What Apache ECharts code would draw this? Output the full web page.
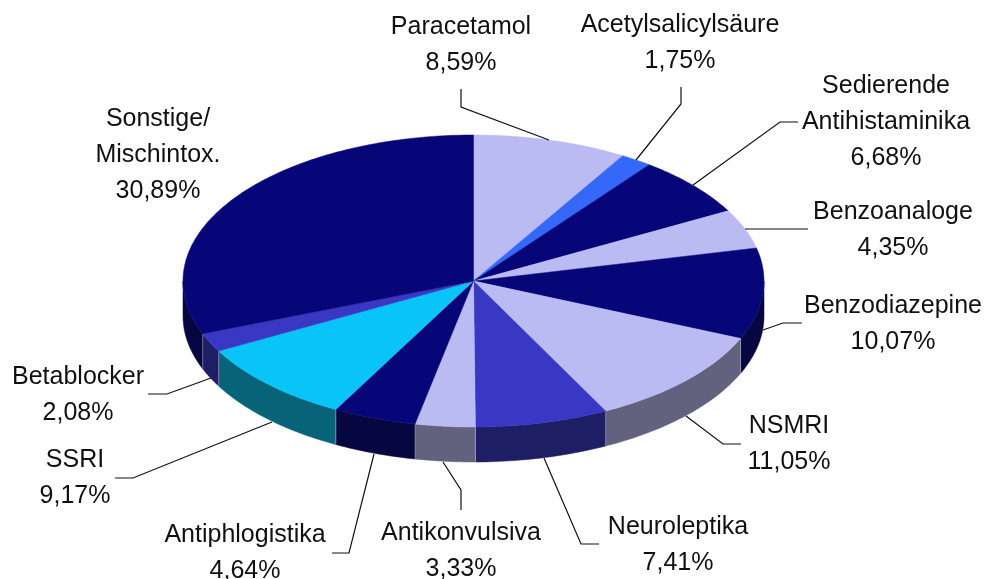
<!DOCTYPE html>
<html>
<head>
<meta charset="utf-8">
<style>
  html, body { margin:0; padding:0; background:#fff; }
  #chart { width:984px; height:579px; }
</style>
</head>
<body>
<div id="chart"></div>
<script src="https://cdn.jsdelivr.net/npm/echarts@6/dist/echarts.min.js"></script>
<script>
// --- data ---
const names = ['Paracetamol','Acetylsalicylsäure','Sedierende\nAntihistaminika','Benzoanaloge','Benzodiazepine','NSMRI','Neuroleptika','Antikonvulsiva','Antiphlogistika','SSRI','Betablocker','Sonstige/\nMischintox.']
const values = [8.59,1.75,6.68,4.35,10.07,11.05,7.41,3.33,4.64,9.17,2.08,30.89]

// --- colours: top face and side wall ---
const NAVY = ['#060679','#060640'], LIGHT = ['#bbbbf4','#62627f'], INDIGO = ['#3838c4','#1e1e64']
const BLUE = ['#3568f8','#1c3684'], CYAN = ['#08c4f8','#066378']
const sliceColors = [LIGHT,BLUE,NAVY,LIGHT,NAVY,LIGHT,INDIGO,LIGHT,NAVY,CYAN,INDIGO,NAVY]

// --- layout: ellipse, label centres, leader lines ---
const CX = 473.5, CY = 281, RX = 290.5, RY = 146, DEPTH = 35
const labelPos = [[461,45],[680,43],[886,122],[893,230],[893,324],[789,444],[678,545],[461,551],[245,553],[75,478],[78,395],[158,155]]
const leaders = [
  [[461,89],[461,107],[549,140]],
  [[681,87],[681,104],[636,160]],
  [[693,185],[780,122],[798,122]],
  [[745,229],[808,229]],
  [[763,330],[783,323],[802,323]],
  [[686,416],[723,444],[741,444]],
  [[544,458],[581,544],[599,544]],
  [[443,462],[461,490],[461,510]],
  [[374,454],[349,553],[332,553]],
  [[272,422],[133,478],[115,478]],
  [[211,378],[167,394],[148,394]],
  []
]

const total = values.reduce((a, b) => a + b, 0)
const rad = d => d * Math.PI / 180
const pt = (deg, dy) => [CX + RX * Math.sin(rad(deg)), CY - RY * Math.cos(rad(deg)) + (dy || 0)]
const arc = (a0, a1, dy) => {
  const n = Math.max(2, Math.ceil(Math.abs(a1 - a0)))
  return Array.from({ length: n + 1 }, (_, i) => pt(a0 + (a1 - a0) * i / n, dy))
}

// 起始角度
const startAngles = []
values.reduce((acc, v, i) => { startAngles[i] = acc; return acc + v }, 0)

function renderSlice(params, api) {
  const i = params.dataIndex
  const a0 = startAngles[i] / total * 360
  const a1 = a0 + api.value(0) / total * 360
  const [top, side] = sliceColors[i]
  const children = []

  // wall only on the front half of the ellipse
  const w0 = Math.max(a0, 90), w1 = Math.min(a1, 270)
  if (w1 > w0) {
    const wall = arc(w0, w1).concat(arc(w1, w0, DEPTH))
    children.push({ type:'polygon', shape:{ points:wall }, style:{ fill:side, stroke:side, lineWidth:0.5 } })
    ;[w0, w1].forEach(a => {
      if (a === 90 || a === 270) return
      children.push({ type:'polyline', shape:{ points:[pt(a), pt(a, DEPTH)] }, style:{ stroke:'rgba(255,255,255,0.3)', lineWidth:1, fill:null } })
    })
  }

  children.push({ type:'polygon', shape:{ points:[[CX, CY]].concat(arc(a0, a1)) }, style:{ fill:top, stroke:top, lineWidth:0.5 } })

  if (leaders[i].length) {
    children.push({ type:'polyline', shape:{ points:leaders[i] }, style:{ stroke:'#111', lineWidth:1.2, fill:null } })
  }
  const pctText = api.value(0).toFixed(2).replace('.', ',') + '%'
  children.push({
    type:'text', z2:10,
    style:{
      x:labelPos[i][0], y:labelPos[i][1],
      text:names[i] + '\n' + pctText,
      align:'center', verticalAlign:'middle',
      font:'25px "Liberation Sans"', lineHeight:36, fill:'#111'
    }
  })
  return { type:'group', children }
}

const chart = echarts.init(document.getElementById('chart'), null, { renderer:'canvas' })
chart.setOption({
  animation:false,
  backgroundColor:'#fff',
  series:[{
    type:'custom',
    coordinateSystem:'none',
    silent:true,
    renderItem:renderSlice,
    data:values.map(v => [v])
  }]
})
</script>
</body>
</html>
